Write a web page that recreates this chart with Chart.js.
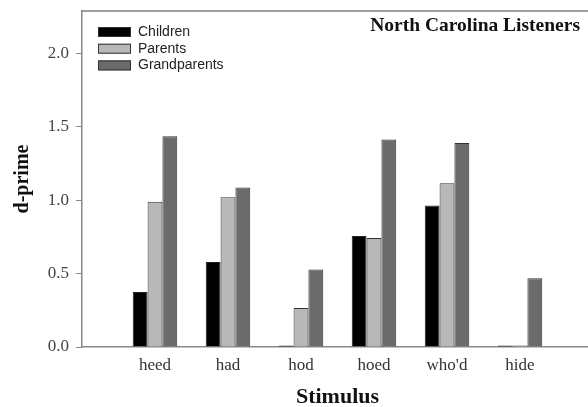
<!DOCTYPE html>
<html>
<head>
<meta charset="utf-8">
<script src="https://cdn.jsdelivr.net/npm/chart.js@4/dist/chart.umd.min.js"></script>
<style>
  html, body { margin: 0; padding: 0; background: #fff; overflow: hidden; }
  #chartContainer { width: 588px; height: 407px; }
</style>
</head>
<body>
<div id="chartContainer"><canvas id="myChart"></canvas></div>
<script>
// Chart data.
var stimuli = ["heed", "had", "hod", "hoed", "who'd", "hide"];
var children = [0.375, 0.58, 0.01, 0.757, 0.964, 0.01];
var parents = [0.99, 1.02, 0.266, 0.743, 1.116, 0.01];
var grandparents = [1.436, 1.087, 0.528, 1.414, 1.39, 0.468];
var yTicks = [0, 0.5, 1.0, 1.5, 2.0];
var chartTitle = "North Carolina Listeners";

// Empty slot at each end, so the bars sit one step in from the axis.
var xLabels = [""].concat(stimuli, [""]);

function toPoints(values) {
  return stimuli.map((s, i) => ({ x: s, y: values[i] }));
}

// The plot in the reference runs a few pixels past the right edge of the picture.
var overhangPlugin = {
  id: "overhang",
  afterLayout(chart) {
    var x = chart.scales.x;
    x.right += 5;
    x.width += 5;
    chart.chartArea.right += 5;
    chart.chartArea.width += 5;
    x.configure();
  }
};

// Draws the top frame line, the title and the legend inside the plot area.
var framePlugin = {
  id: "frame",
  afterDraw(chart) {
    var ctx = chart.ctx;
    var area = chart.chartArea;
    ctx.save();
    ctx.strokeStyle = "#808080";
    ctx.lineWidth = 1.5;
    ctx.beginPath();
    ctx.moveTo(area.left, area.top);
    ctx.lineTo(area.right, area.top);
    ctx.stroke();

    ctx.fillStyle = "#111";
    ctx.font = "bold 19.5px 'Liberation Serif', 'Times New Roman', serif";
    ctx.textAlign = "right";
    ctx.textBaseline = "alphabetic";
    ctx.fillText(chartTitle, 580, 31);

    ctx.font = "14px 'Liberation Sans', Arial, sans-serif";
    ctx.textAlign = "left";
    ctx.textBaseline = "middle";
    chart.data.datasets.forEach((ds, i) => {
      var y = 32 + i * 16.7;
      ctx.fillStyle = ds.backgroundColor;
      ctx.fillRect(98, y - 5, 33, 10);
      ctx.strokeStyle = "#333";
      ctx.lineWidth = 1;
      ctx.strokeRect(98.5, y - 4.5, 32, 9);
      ctx.fillStyle = "#222";
      ctx.fillText(ds.label, 138, y);
    });
    ctx.restore();
  }
};

// No automatic padding around the scales: the plot area is set by hand.
function noPadding(scale) {
  scale.paddingLeft = 0;
  scale.paddingRight = 0;
  scale.paddingTop = 0;
  scale.paddingBottom = 0;
}

function loadChart() {
  var ctx = document.getElementById("myChart");
  new Chart(ctx, {
    type: "bar",
    data: {
      labels: xLabels,
      datasets: [
        { label: "Children", data: toPoints(children), backgroundColor: "#000000", borderColor: "#222", borderWidth: 1 },
        { label: "Parents", data: toPoints(parents), backgroundColor: "#b8b8b8", borderColor: "#333", borderWidth: 1 },
        { label: "Grandparents", data: toPoints(grandparents), backgroundColor: "#6b6b6b", borderColor: "#333", borderWidth: 1 }
      ]
    },
    options: {
      responsive: true,
      maintainAspectRatio: false,
      animation: false,
      layout: { autoPadding: false, padding: { top: 11, right: 0, left: 0, bottom: 0 } },
      categoryPercentage: 0.61,
      barPercentage: 1.0,
      plugins: {
        legend: { display: false },
        tooltip: { enabled: false }
      },
      scales: {
        x: {
          type: "category",
          offset: false,
          grid: { display: false, drawTicks: false },
          border: { display: true, color: "#888", width: 1.5 },
          ticks: {
            autoSkip: false,
            maxRotation: 0,
            padding: 8,
            color: "#333",
            font: { family: "'Liberation Serif', 'Times New Roman', serif", size: 17 }
          },
          title: {
            display: true,
            text: "Stimulus",
            color: "#111",
            padding: { top: 0, bottom: -4 },
            font: { family: "'Liberation Serif', 'Times New Roman', serif", size: 22, weight: "bold" }
          },
          afterFit: scale => { scale.height = 60; noPadding(scale); }
        },
        y: {
          min: 0,
          max: 2.29,
          afterBuildTicks: scale => { scale.ticks = yTicks.map(v => ({ value: v })); },
          grid: { drawOnChartArea: false, tickLength: 6, color: "#888", tickColor: "#888" },
          border: { display: true, color: "#888", width: 1.5 },
          ticks: {
            padding: 7,
            color: "#444",
            callback: v => Number(v).toFixed(1),
            font: { family: "'Liberation Serif', 'Times New Roman', serif", size: 17 }
          },
          title: {
            display: true,
            text: "d-prime",
            color: "#111",
            padding: { top: 11, bottom: 0 },
            font: { family: "'Liberation Serif', 'Times New Roman', serif", size: 20, weight: "bold" }
          },
          afterFit: scale => { scale.width = 82; noPadding(scale); }
        }
      }
    },
    plugins: [overhangPlugin, framePlugin]
  });
}

loadChart();
</script>
</body>
</html>
